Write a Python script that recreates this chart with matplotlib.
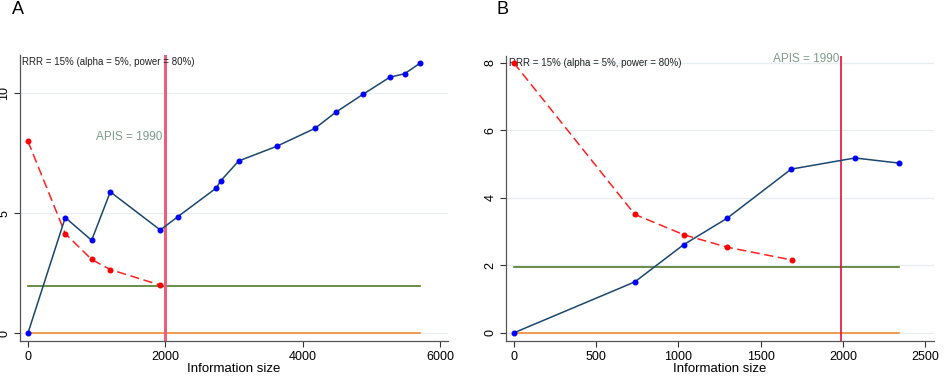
import matplotlib.pyplot as plt

plt.rcParams['font.family'] = ['Liberation Sans', 'DejaVu Sans']

# Panel A
a_x = [0, 543, 927, 1199, 1927, 2184, 2742, 2806, 3068, 3621, 4179, 4481, 4878, 5267, 5485, 5704]
a_z = [0, 4.82, 3.87, 5.89, 4.30, 4.86, 6.05, 6.35, 7.18, 7.79, 8.54, 9.21, 9.96, 10.67, 10.82, 11.25]
a_bx = [0, 543, 927, 1199, 1927]
a_bound = [8.0, 4.15, 3.07, 2.65, 2.0]

# Panel B
b_x = [0, 735, 1031, 1294, 1685, 2072, 2337]
b_z = [0, 1.51, 2.61, 3.39, 4.85, 5.18, 5.03]
b_bx = [0, 735, 1031, 1294, 1687]
b_bound = [8.0, 3.51, 2.91, 2.54, 2.16]

apis = 1990
z_conv = 1.95
label_txt = "RRR = 15% (alpha = 5%, power = 80%)"

W, H = 948, 378
fig = plt.figure(figsize=(W / 100, H / 100), dpi=100)

def frame(l, r, t, b):
    return [l / W, 1 - b / H, (r - l) / W, (b - t) / H]

axA = fig.add_axes(frame(20, 448, 55, 341))
axB = fig.add_axes(frame(506, 934, 56, 341))

navy = "#1a476f"
grid_c = "#e6eef0"

def draw(ax, xs, zs, bx, bound, xmax, ylim, xlim, xticks, yticks, vcol, vlw):
    for y in yticks:
        ax.axhline(y, color=grid_c, lw=0.9, zorder=0)
    ax.plot([0, xmax], [0, 0], color="#f28a30", lw=1.2, zorder=1)
    ax.plot([0, xmax], [z_conv, z_conv], color="#4f7a28", lw=1.2, zorder=1)
    ax.axvline(apis, color=vcol, lw=vlw, zorder=2)
    ax.plot(bx, bound, color="#ff2020", lw=1.1, ls=(0, (6, 3)), zorder=3)
    ax.plot(bx, bound, "o", color="#ff0000", ms=3.3, zorder=4)
    ax.plot(xs, zs, color=navy, lw=1.1, zorder=3)
    ax.plot(xs, zs, "o", color="#0000ff", ms=3.3, zorder=4)
    ax.set_xlim(*xlim)
    ax.set_ylim(*ylim)
    ax.set_xticks(xticks)
    ax.set_yticks(yticks)
    ax.set_yticklabels([str(v) for v in yticks], rotation=90, va="center")
    ax.tick_params(labelsize=9, length=4, width=0.8, color="#333333", pad=3)
    for s in ["top", "right"]:
        ax.spines[s].set_visible(False)
    for s in ["left", "bottom"]:
        ax.spines[s].set_color("#555555")
        ax.spines[s].set_linewidth(0.9)
    ax.set_xlabel("Information size", fontsize=9.5, labelpad=0)

draw(axA, a_x, a_z, a_bx, a_bound, 5704, (-0.33, 11.6), (-116, 6116),
     [0, 2000, 4000, 6000], [0, 5, 10], "#e8607e", 2.2)
draw(axB, b_x, b_z, b_bx, b_bound, 2337, (-0.24, 8.2), (-47, 2552),
     [0, 500, 1000, 1500, 2000, 2500], [0, 2, 4, 6, 8], "#e0103c", 1.2)

axA.text(-90, 11.3, label_txt, fontsize=7, va="center", ha="left", color="#222222")
axA.text(apis - 40, 8.2, "APIS = 1990", fontsize=8.5, va="center", ha="right", color="#7f9a8a")
axB.text(-30, 8.0, label_txt, fontsize=7, va="center", ha="left", color="#222222")
axB.text(apis - 10, 8.1, "APIS = 1990", fontsize=8.5, va="center", ha="right", color="#7f9a8a")

fig.text(12 / W, 1 - 10 / H, "A", fontsize=13, va="center", ha="left")
fig.text(497 / W, 1 - 10 / H, "B", fontsize=13, va="center", ha="left")

fig.savefig("out.png", dpi=100)
